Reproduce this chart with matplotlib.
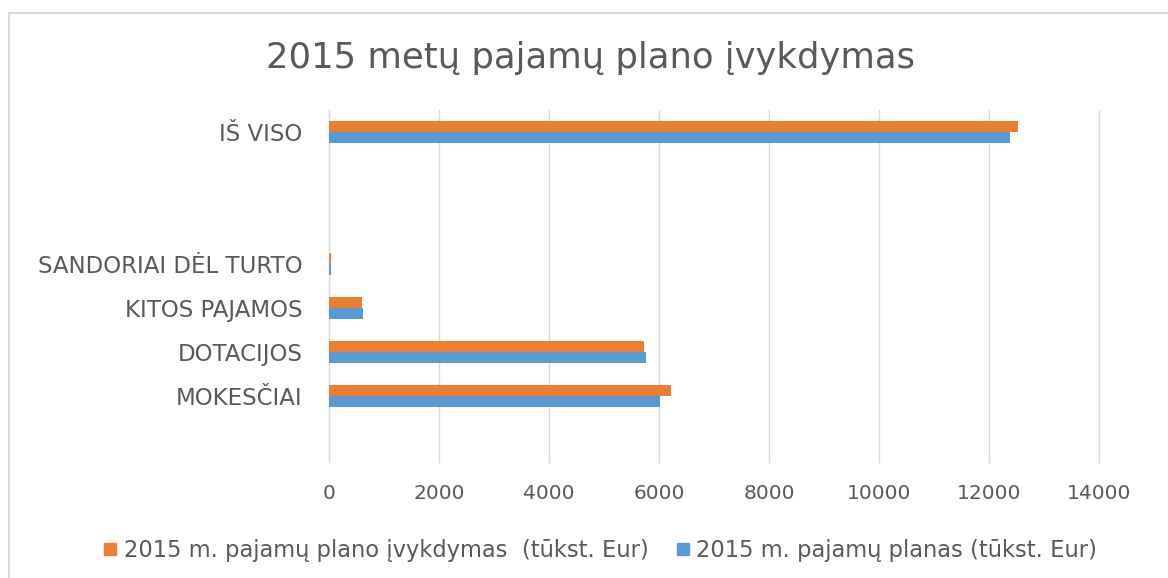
import matplotlib
matplotlib.use("Agg")
import matplotlib.pyplot as plt
from matplotlib.patches import Rectangle
from matplotlib.lines import Line2D

categories = ["", "MOKESČIAI", "DOTACIJOS", "KITOS PAJAMOS", "SANDORIAI DĖL TURTO", "", "", "IŠ VISO"]
ivykdymas = [0, 6210, 5730, 600, 30, 0, 0, 12525]
planas = [0, 6020, 5760, 625, 30, 0, 0, 12380]
xticks = [0, 2000, 4000, 6000, 8000, 10000, 12000, 14000]
title = "2015 metų pajamų plano įvykdymas"
label_ivykdymas = "2015 m. pajamų plano įvykdymas  (tūkst. Eur)"
label_planas = "2015 m. pajamų planas (tūkst. Eur)"

ORANGE = "#ED7D31"
BLUE = "#5B9BD5"
TEXT = "#595959"
GRID = "#D9D9D9"

plt.rcParams['font.family'] = ['DejaVu Sans']

W, H = 1168, 578
fig = plt.figure(figsize=(W / 100, H / 100), dpi=100)
fig.patch.set_facecolor("white")

# chart area border
fig.patches.append(Rectangle((9 / W, -0.05), 1.1, 1 - 13 / H + 0.05, transform=fig.transFigure,
                             fill=False, edgecolor="#D9D9D9", linewidth=1.5))

left, right = 329 / W, 1099 / W
top, bottom = 1 - 110 / H, 1 - 462 / H
ax = fig.add_axes([left, bottom, right - left, top - bottom])

ypos = list(range(len(categories)))
bh = 0.25
ax.barh([y + bh / 2 for y in ypos], ivykdymas, height=bh, color=ORANGE, zorder=3)
ax.barh([y - bh / 2 for y in ypos], planas, height=bh, color=BLUE, zorder=3)

ax.set_xlim(0, 14000)
ax.set_ylim(-0.5, len(categories) - 0.5)
ax.set_xticks(xticks)
ax.set_xticklabels([str(v) for v in xticks])
ax.set_yticks(ypos)
ax.set_yticklabels(categories)
ax.tick_params(axis="both", length=0, colors=TEXT)
ax.tick_params(axis="x", pad=16, labelsize=14.5)
ax.tick_params(axis="y", pad=19, labelsize=16.5)
for s in ax.spines.values():
    s.set_visible(False)
ax.grid(axis="x", color=GRID, linewidth=1, zorder=0)
for gl in ax.get_xgridlines():
    gl.set_clip_on(False)
ax.axvline(0, color=GRID, linewidth=1, zorder=1)

fig.text(590 / W, 1 - 58 / H, title, ha="center", va="center", fontsize=25.5, color=TEXT)

handles = [Line2D([], [], marker="s", linestyle="none", markersize=8, color=ORANGE),
           Line2D([], [], marker="s", linestyle="none", markersize=8, color=BLUE)]
fig.legend(handles, [label_ivykdymas, label_planas], loc="center", ncol=2,
           bbox_to_anchor=(598 / W, 1 - 550 / H), frameon=False, fontsize=16.3,
           labelcolor=TEXT, handletextpad=0.1, columnspacing=1.0, handlelength=1.0)

fig.savefig("out.png", dpi=100)
